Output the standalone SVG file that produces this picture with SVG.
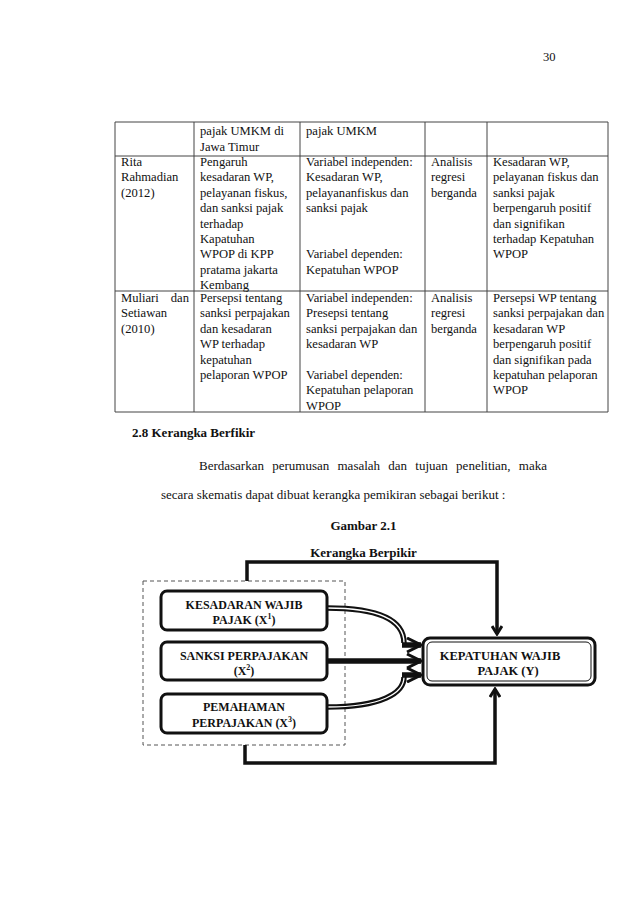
<svg xmlns="http://www.w3.org/2000/svg" width="638" height="903" viewBox="0 0 638 903">
<defs>
<style>
.t{font-family:"Liberation Serif","Times New Roman",serif;font-size:12.6px;fill:#111}
.p{font-family:"Liberation Serif","Times New Roman",serif;font-size:13px;fill:#111}
.b{font-family:"Liberation Serif","Times New Roman",serif;font-size:13px;font-weight:bold;fill:#111}
.n{font-family:"Liberation Serif","Times New Roman",serif;font-size:12px;font-weight:bold;fill:#111;text-anchor:middle}
.g{stroke:#444;stroke-width:1;fill:none}
.box{fill:#fff;stroke:#111;stroke-width:3}
.k{fill:none;stroke:#111;stroke-width:3.5}
.dbl{fill:none;stroke:#111;stroke-width:5.5}
.dbw{fill:none;stroke:#fff;stroke-width:1.3}
</style>
<marker id="ah" viewBox="0 0 12 12" refX="10" refY="6" markerWidth="12" markerHeight="12" markerUnits="userSpaceOnUse" orient="auto">
<path d="M2,1 L10,6 L2,11" fill="none" stroke="#111" stroke-width="3"/>
</marker>
<marker id="ah2" viewBox="0 0 20 16" refX="18" refY="8" markerWidth="20" markerHeight="16" markerUnits="userSpaceOnUse" orient="auto">
<path d="M4,1 L18,8 L4,15" fill="none" stroke="#111" stroke-width="3"/>
</marker>
</defs>
<rect width="638" height="903" fill="#fff"/>
<text class="t" x="543" y="61">30</text>
<g id="table">
<path class="g" d="M115,122 H608 M115,156 H608 M115,291 H608 M115,412 H608 M115,122 V412 M194,122 V412 M300,122 V412 M425,122 V412 M487,122 V412 M608,122 V412"/>
<text class="t" x="200" y="135">pajak UMKM di</text>
<text class="t" x="200" y="150.5">Jawa Timur</text>
<text class="t" x="306" y="135">pajak UMKM</text>
<text class="t" x="121" y="166">Rita</text>
<text class="t" x="121" y="181.4">Rahmadian</text>
<text class="t" x="121" y="196.8">(2012)</text>
<text class="t" x="200" y="166">Pengaruh</text>
<text class="t" x="200" y="181.4">kesadaran WP,</text>
<text class="t" x="200" y="196.8">pelayanan fiskus,</text>
<text class="t" x="200" y="212.2">dan sanksi pajak</text>
<text class="t" x="200" y="227.6">terhadap</text>
<text class="t" x="200" y="243">Kapatuhan</text>
<text class="t" x="200" y="258.4">WPOP di KPP</text>
<text class="t" x="200" y="273.8">pratama jakarta</text>
<text class="t" x="200" y="289.2">Kembang</text>
<text class="t" x="306" y="166">Variabel independen:</text>
<text class="t" x="306" y="181.4">Kesadaran WP,</text>
<text class="t" x="306" y="196.8">pelayananfiskus dan</text>
<text class="t" x="306" y="212.2">sanksi pajak</text>
<text class="t" x="306" y="258.4">Variabel dependen:</text>
<text class="t" x="306" y="273.8">Kepatuhan WPOP</text>
<text class="t" x="431" y="166">Analisis</text>
<text class="t" x="431" y="181.4">regresi</text>
<text class="t" x="431" y="196.8">berganda</text>
<text class="t" x="493" y="166">Kesadaran WP,</text>
<text class="t" x="493" y="181.4">pelayanan fiskus dan</text>
<text class="t" x="493" y="196.8">sanksi pajak</text>
<text class="t" x="493" y="212.2">berpengaruh positif</text>
<text class="t" x="493" y="227.6">dan signifikan</text>
<text class="t" x="493" y="243">terhadap Kepatuhan</text>
<text class="t" x="493" y="258.4">WPOP</text>
<text class="t" x="121" y="302">Muliari</text>
<text class="t" x="189" y="302" text-anchor="end">dan</text>
<text class="t" x="121" y="317.4">Setiawan</text>
<text class="t" x="121" y="332.8">(2010)</text>
<text class="t" x="200" y="302">Persepsi tentang</text>
<text class="t" x="200" y="317.4">sanksi perpajakan</text>
<text class="t" x="200" y="332.8">dan kesadaran</text>
<text class="t" x="200" y="348.2">WP terhadap</text>
<text class="t" x="200" y="363.6">kepatuhan</text>
<text class="t" x="200" y="379">pelaporan WPOP</text>
<text class="t" x="306" y="302">Variabel independen:</text>
<text class="t" x="306" y="317.4">Presepsi tentang</text>
<text class="t" x="306" y="332.8">sanksi perpajakan dan</text>
<text class="t" x="306" y="348.2">kesadaran WP</text>
<text class="t" x="306" y="379">Variabel dependen:</text>
<text class="t" x="306" y="394.4">Kepatuhan pelaporan</text>
<text class="t" x="306" y="409.8">WPOP</text>
<text class="t" x="431" y="302">Analisis</text>
<text class="t" x="431" y="317.4">regresi</text>
<text class="t" x="431" y="332.8">berganda</text>
<text class="t" x="493" y="302">Persepsi WP tentang</text>
<text class="t" x="493" y="317.4">sanksi perpajakan dan</text>
<text class="t" x="493" y="332.8">kesadaran WP</text>
<text class="t" x="493" y="348.2">berpengaruh positif</text>
<text class="t" x="493" y="363.6">dan signifikan pada</text>
<text class="t" x="493" y="379">kepatuhan pelaporan</text>
<text class="t" x="493" y="394.4">WPOP</text>
</g>
<text class="b" x="132" y="437">2.8 Kerangka Berfikir</text>
<text class="p" x="199" y="470" word-spacing="5">Berdasarkan perumusan masalah dan tujuan penelitian, maka</text>
<text class="p" x="161" y="499">secara skematis dapat dibuat kerangka pemikiran sebagai berikut :</text>
<text class="b" x="363.5" y="530" text-anchor="middle">Gambar 2.1</text>
<text class="b" x="363.5" y="557" text-anchor="middle">Kerangka Berpikir</text>
<g id="group-x">
<rect x="143" y="581" width="202" height="164" fill="none" stroke="#555" stroke-width="1" stroke-dasharray="4,3"/>
</g>
<g id="connectors">
<path class="k" d="M247,581 V562 H497 V634" marker-end="url(#ah)"/>
<path class="k" d="M245,745 V763 H495 V689" marker-end="url(#ah)"/>
<path class="dbl" d="M327,608 C382,608 404,622 404,643"/>
<path class="dbw" d="M327,608 C382,608 404,622 404,643"/>
<path class="dbl" d="M327,707 C382,707 404,693 404,677"/>
<path class="dbw" d="M327,707 C382,707 404,693 404,677"/>
<path class="dbl" d="M402,645 H421" marker-end="url(#ah2)"/>
<path class="dbl" d="M327,661 H421" marker-end="url(#ah2)"/>
<path class="dbl" d="M402,675 H421" marker-end="url(#ah2)"/>
</g>
<g id="x1">
<rect class="box" x="161" y="591" width="166" height="39" rx="6"/>
<text class="n" x="244" y="609">KESADARAN WAJIB</text>
<text class="n" x="244" y="624">PAJAK (X<tspan font-size="8" dy="-5">1</tspan><tspan dy="5">)</tspan></text>
</g>
<g id="x2">
<rect class="box" x="161" y="642" width="166" height="38" rx="6"/>
<text class="n" x="244" y="660">SANKSI PERPAJAKAN</text>
<text class="n" x="244" y="675">(X<tspan font-size="8" dy="-5">2</tspan><tspan dy="5">)</tspan></text>
</g>
<g id="x3">
<rect class="box" x="161" y="694" width="166" height="39" rx="6"/>
<text class="n" x="244" y="711">PEMAHAMAN</text>
<text class="n" x="244" y="727">PERPAJAKAN (X<tspan font-size="8" dy="-5">3</tspan><tspan dy="5">)</tspan></text>
</g>
<g id="y">
<rect x="423" y="638" width="172" height="47" rx="7" fill="#fff" stroke="#111" stroke-width="3"/>
<rect x="427" y="642" width="164" height="39" rx="5" fill="none" stroke="#111" stroke-width="1"/>
<text class="n" x="500" y="660" style="font-size:12.5px">KEPATUHAN WAJIB</text>
<text class="n" x="508" y="675" style="font-size:12.5px">PAJAK (Y)</text>
</g>
</svg>
